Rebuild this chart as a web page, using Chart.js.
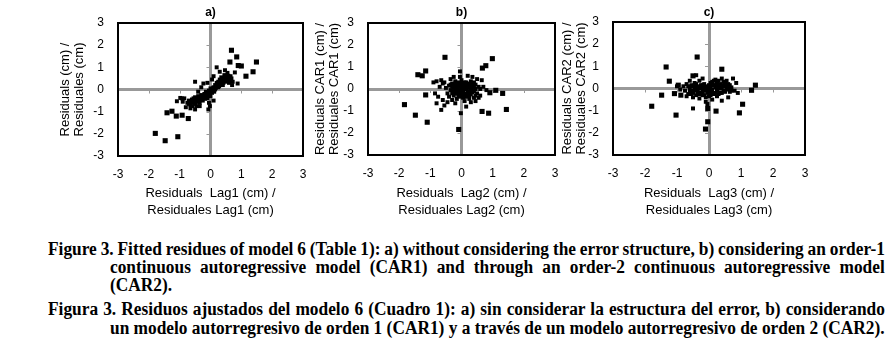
<!DOCTYPE html>
<html>
<head>
<meta charset="utf-8">
<script src="https://cdn.jsdelivr.net/npm/chart.js@4/dist/chart.umd.min.js"></script>
<style>
  html, body { margin: 0; padding: 0; background: #fff; }
  body { width: 893px; height: 360px; position: relative; overflow: hidden; }
  .panel { position: absolute; top: 0; }
  .cap {
    position: absolute; white-space: nowrap; transform-origin: 0 0;
    font-family: "Liberation Serif", "DejaVu Serif", serif; font-weight: bold;
    font-size: 18px; line-height: 18px; color: #000;
  }
</style>
</head>
<body>
<div class="panel" id="wrap_a"><canvas id="ch_a"></canvas></div>
<div class="panel" id="wrap_b"><canvas id="ch_b"></canvas></div>
<div class="panel" id="wrap_c"><canvas id="ch_c"></canvas></div>

<div class="cap" style="left:48px;top:240px" data-w="837">Figure 3. Fitted residues of model 6 (Table 1): a) without considering the error structure, b) considering an order-1</div>
<div class="cap" style="left:110px;top:258px" data-w="775">continuous autoregressive model (CAR1) and through an order-2 continuous autoregressive model</div>
<div class="cap" style="left:110px;top:276px">(CAR2).</div>
<div class="cap" style="left:48px;top:300px" data-w="837">Figura 3. Residuos ajustados del modelo 6 (Cuadro 1): a) sin considerar la estructura del error, b) considerando</div>
<div class="cap" style="left:110px;top:319px" data-w="775" id="capLast">un modelo autorregresivo de orden 1 (CAR1) y a través de un modelo autorregresivo de orden 2 (CAR2).</div>

<script>
const FONT = "'Liberation Sans', Arial, sans-serif";

// axis ticks shared by all three panels
const tickValues = [-3, -2, -1, 0, 1, 2, 3];

// a) residuals vs lag1 — isolated (larger) and clustered (smaller) points
const aOutliers = [
  {x: 0.68, y: 1.77}, {x: 0.85, y: 1.47}, {x: 0.63, y: 1.24}, {x: 1.49, y: 1.24},
  {x: 0.90, y: 1.08}, {x: 1.00, y: 1.06}, {x: 1.38, y: 0.80}, {x: 1.15, y: 0.60},
  {x: -1.79, y: -1.98}, {x: -1.47, y: -2.31}, {x: -1.06, y: -2.13},
  {x: -1.41, y: -1.05}, {x: -1.25, y: -0.98}, {x: -1.11, y: -1.20},
  {x: -0.92, y: -1.16}, {x: -0.72, y: -1.31}
];
const aCluster = [
  {x: -0.75, y: -0.60}, {x: -0.70, y: -0.50}, {x: -0.65, y: -0.70}, {x: -0.60, y: -0.45},
  {x: -0.60, y: -0.60}, {x: -0.55, y: -0.50}, {x: -0.50, y: -0.35}, {x: -0.50, y: -0.65},
  {x: -0.45, y: -0.45}, {x: -0.45, y: -0.55}, {x: -0.40, y: -0.30}, {x: -0.40, y: -0.50},
  {x: -0.35, y: -0.40}, {x: -0.35, y: -0.60}, {x: -0.30, y: -0.25}, {x: -0.30, y: -0.45},
  {x: -0.25, y: -0.30}, {x: -0.25, y: -0.50}, {x: -0.20, y: -0.20}, {x: -0.20, y: -0.35},
  {x: -0.15, y: -0.10}, {x: -0.15, y: -0.30}, {x: -0.10, y: -0.20}, {x: -0.10, y: -0.40},
  {x: -0.05, y: -0.05}, {x: -0.05, y: -0.25}, {x: 0.00, y: -0.10}, {x: 0.00, y: 0.05},
  {x: 0.00, y: -0.30}, {x: 0.05, y: 0.00}, {x: 0.05, y: -0.15}, {x: 0.10, y: 0.10},
  {x: 0.10, y: -0.05}, {x: 0.15, y: 0.20}, {x: 0.15, y: 0.00}, {x: 0.20, y: 0.15},
  {x: 0.20, y: 0.30}, {x: 0.25, y: 0.10}, {x: 0.25, y: 0.35}, {x: 0.30, y: 0.25},
  {x: 0.30, y: 0.45}, {x: 0.35, y: 0.30}, {x: 0.35, y: 0.55}, {x: 0.40, y: 0.40},
  {x: 0.40, y: 0.20}, {x: 0.45, y: 0.50}, {x: 0.45, y: 0.65}, {x: 0.50, y: 0.35},
  {x: 0.50, y: 0.60}, {x: 0.55, y: 0.45}, {x: 0.55, y: 0.75}, {x: 0.60, y: 0.50},
  {x: 0.60, y: 0.30}, {x: 0.65, y: 0.60}, {x: 0.70, y: 0.20}, {x: -0.50, y: 0.35},
  {x: -0.23, y: 0.27}, {x: -0.10, y: 0.30}, {x: 0.05, y: 0.45}, {x: -0.30, y: 0.10},
  {x: -0.40, y: -0.10}, {x: -0.85, y: -0.40}, {x: -0.93, y: -0.40}, {x: -0.90, y: -0.55},
  {x: -0.80, y: -0.80}, {x: -0.65, y: -0.85}, {x: -0.50, y: -0.90}, {x: -0.35, y: -0.75},
  {x: 0.10, y: 0.60}, {x: 0.20, y: 1.00}, {x: 0.30, y: 0.80}, {x: 0.47, y: 0.87},
  {x: -0.07, y: -0.90}, {x: -0.02, y: -0.75}, {x: -1.09, y: -0.53}, {x: -0.98, y: -0.38},
  {x: 0.79, y: 0.77}, {x: 0.88, y: 0.27}, {x: -0.05, y: -0.60}, {x: 0.10, y: -0.50},
  {x: -0.70, y: -0.65}, {x: -0.62, y: -0.55}, {x: -0.55, y: -0.40}, {x: -0.48, y: -0.50},
  {x: -0.42, y: -0.38}, {x: -0.38, y: -0.55}, {x: -0.32, y: -0.35}, {x: -0.28, y: -0.40},
  {x: -0.22, y: -0.28}, {x: -0.18, y: -0.42}, {x: -0.12, y: -0.15}, {x: -0.08, y: -0.30},
  {x: -0.02, y: -0.18}, {x: 0.02, y: -0.05}, {x: 0.08, y: 0.05}, {x: 0.12, y: -0.10},
  {x: 0.18, y: 0.08}, {x: 0.22, y: 0.22}, {x: 0.28, y: 0.15}, {x: 0.32, y: 0.35},
  {x: 0.38, y: 0.45}, {x: 0.42, y: 0.30}, {x: 0.48, y: 0.55}, {x: 0.52, y: 0.50},
  {x: 0.58, y: 0.62}, {x: 0.62, y: 0.40}, {x: 0.68, y: 0.50}, {x: 0.72, y: 0.35},
  {x: -0.58, y: -0.75}, {x: -0.45, y: -0.75}
];

// b) residuals CAR1 vs lag2
const bOutliers = [
  {x: -0.53, y: 1.44}, {x: 0.99, y: 1.38}, {x: 0.78, y: 1.06}, {x: 0.67, y: 0.95},
  {x: -1.40, y: 0.65}, {x: -1.26, y: 0.60}, {x: -1.15, y: 0.82}, {x: -1.83, y: -0.71},
  {x: -1.48, y: -1.19}, {x: -1.10, y: -1.51}, {x: -1.15, y: -0.27}, {x: -0.09, y: -1.84},
  {x: 0.66, y: -1.02}, {x: 0.87, y: -1.10}, {x: 1.44, y: -0.93}, {x: 1.32, y: -0.20},
  {x: 1.10, y: -0.06}, {x: 0.91, y: -0.17}
];
const bCluster = [
  {x: -0.30, y: 0.10}, {x: -0.25, y: -0.10}, {x: -0.20, y: 0.20}, {x: -0.20, y: -0.20},
  {x: -0.15, y: 0.00}, {x: -0.10, y: 0.30}, {x: -0.10, y: -0.30}, {x: -0.05, y: 0.10},
  {x: -0.05, y: -0.15}, {x: 0.00, y: 0.00}, {x: 0.00, y: 0.20}, {x: 0.00, y: -0.25},
  {x: 0.05, y: 0.05}, {x: 0.05, y: -0.10}, {x: 0.10, y: 0.15}, {x: 0.10, y: -0.20},
  {x: 0.15, y: 0.00}, {x: 0.15, y: 0.30}, {x: 0.20, y: -0.10}, {x: 0.20, y: 0.10},
  {x: 0.25, y: -0.30}, {x: 0.25, y: 0.20}, {x: 0.30, y: 0.00}, {x: 0.30, y: 0.35},
  {x: 0.35, y: -0.15}, {x: 0.35, y: 0.10}, {x: 0.40, y: -0.40}, {x: 0.40, y: 0.30},
  {x: 0.45, y: 0.00}, {x: 0.50, y: -0.20}, {x: 0.55, y: 0.10}, {x: -0.35, y: -0.05},
  {x: -0.40, y: 0.15}, {x: -0.45, y: -0.20}, {x: -0.50, y: 0.05}, {x: -0.55, y: 0.30},
  {x: -0.60, y: 0.25}, {x: -0.65, y: 0.40}, {x: -0.70, y: 0.10}, {x: -0.80, y: 0.35},
  {x: -0.90, y: 0.30}, {x: -0.85, y: -0.20}, {x: -0.75, y: -0.35}, {x: -0.60, y: -0.50},
  {x: -0.55, y: -0.75}, {x: -0.45, y: -0.60}, {x: -0.30, y: -0.50}, {x: -0.20, y: -0.65},
  {x: 0.10, y: -0.55}, {x: 0.30, y: -0.60}, {x: 0.45, y: -0.55}, {x: 0.60, y: -0.30},
  {x: 0.70, y: 0.10}, {x: 0.80, y: -0.05}, {x: 0.65, y: 0.40}, {x: 0.50, y: 0.45},
  {x: 0.35, y: 0.55}, {x: -0.05, y: 0.55}, {x: -0.05, y: 0.80}, {x: 0.20, y: 0.60},
  {x: -0.35, y: 0.45}, {x: -0.25, y: 0.55}, {x: 0.15, y: -0.80}, {x: -0.65, y: -0.95},
  {x: -0.80, y: -0.65}, {x: 0.05, y: -0.40}, {x: -0.15, y: -0.45}, {x: 0.25, y: -0.45},
  {x: -0.02, y: -1.10}, {x: -0.15, y: 0.10}, {x: -0.10, y: -0.05}, {x: 0.05, y: 0.25},
  {x: 0.10, y: 0.00}, {x: 0.20, y: -0.20}, {x: 0.25, y: 0.05}, {x: -0.25, y: 0.05},
  {x: -0.30, y: -0.20}, {x: 0.35, y: -0.05}, {x: 0.40, y: 0.15}, {x: 0.15, y: -0.35},
  {x: -0.05, y: -0.35}, {x: 0.00, y: 0.40}, {x: -0.20, y: 0.35}, {x: 0.30, y: 0.20},
  {x: 0.45, y: -0.30}, {x: -0.40, y: -0.35}, {x: 0.60, y: 0.00}, {x: 0.55, y: -0.40},
  {x: -0.10, y: 0.15}, {x: -0.30, y: 0.25}, {x: -0.35, y: 0.20}, {x: -0.25, y: -0.30},
  {x: -0.15, y: 0.25}, {x: -0.15, y: -0.20}, {x: 0.00, y: 0.10}, {x: 0.05, y: -0.20},
  {x: 0.10, y: 0.30}, {x: 0.15, y: 0.15}, {x: 0.20, y: 0.25}, {x: 0.25, y: -0.15},
  {x: 0.30, y: -0.25}, {x: 0.35, y: 0.25}, {x: 0.40, y: -0.10}, {x: 0.45, y: 0.20},
  {x: -0.05, y: 0.25}, {x: 0.10, y: -0.35}, {x: -0.20, y: -0.05}
];

// c) residuals CAR2 vs lag3
const cOutliers = [
  {x: -0.37, y: 1.42}, {x: -1.34, y: 0.97}, {x: -1.24, y: 0.33}, {x: 0.40, y: 0.87},
  {x: 1.45, y: 0.15}, {x: 1.33, y: -0.08}, {x: -1.48, y: -0.30}, {x: -1.79, y: -0.80},
  {x: -1.03, y: -1.20}, {x: 1.05, y: -0.71}, {x: 0.95, y: -1.10}, {x: 0.22, y: -1.02},
  {x: -0.04, y: -1.50}, {x: -0.11, y: -1.83}, {x: -0.04, y: -0.90}, {x: -1.08, y: -0.23},
  {x: -0.96, y: 0.15}, {x: -0.88, y: -0.30}, {x: -0.50, y: 0.57}
];
const cCluster = [
  {x: -0.80, y: 0.10}, {x: -0.75, y: -0.10}, {x: -0.70, y: 0.20}, {x: -0.65, y: -0.25},
  {x: -0.60, y: 0.00}, {x: -0.55, y: 0.15}, {x: -0.50, y: -0.20}, {x: -0.45, y: 0.05},
  {x: -0.40, y: -0.30}, {x: -0.40, y: 0.20}, {x: -0.35, y: -0.10}, {x: -0.30, y: 0.10},
  {x: -0.30, y: -0.25}, {x: -0.25, y: 0.00}, {x: -0.20, y: -0.15}, {x: -0.20, y: 0.15},
  {x: -0.15, y: -0.30}, {x: -0.10, y: 0.05}, {x: -0.10, y: -0.10}, {x: -0.05, y: -0.20},
  {x: 0.00, y: 0.00}, {x: 0.00, y: -0.35}, {x: 0.05, y: 0.10}, {x: 0.05, y: -0.15},
  {x: 0.10, y: -0.05}, {x: 0.15, y: 0.15}, {x: 0.15, y: -0.25}, {x: 0.20, y: 0.05},
  {x: 0.25, y: -0.10}, {x: 0.25, y: 0.25}, {x: 0.30, y: 0.00}, {x: 0.35, y: 0.20},
  {x: 0.35, y: -0.20}, {x: 0.40, y: 0.05}, {x: 0.45, y: 0.30}, {x: 0.45, y: -0.10},
  {x: 0.50, y: 0.10}, {x: 0.55, y: -0.05}, {x: 0.60, y: 0.20}, {x: 0.65, y: -0.15},
  {x: 0.70, y: 0.05}, {x: 0.75, y: 0.45}, {x: 0.80, y: -0.10}, {x: 0.90, y: -0.20},
  {x: 0.85, y: 0.25}, {x: 0.40, y: 0.45}, {x: 0.20, y: 0.40}, {x: -0.20, y: 0.45},
  {x: -0.40, y: 0.60}, {x: -0.60, y: 0.35}, {x: -0.90, y: -0.05}, {x: -1.00, y: 0.10},
  {x: -0.50, y: -0.40}, {x: -0.30, y: -0.45}, {x: 0.10, y: -0.50}, {x: 0.40, y: -0.55},
  {x: 0.60, y: -0.40}, {x: -0.05, y: -0.70}, {x: -0.10, y: -0.60}, {x: 0.10, y: 0.30},
  {x: -0.30, y: 0.35}, {x: 0.55, y: 0.35}, {x: -0.70, y: -0.35}, {x: 0.30, y: 0.35},
  {x: -0.50, y: -0.90}, {x: -0.35, y: 0.05}, {x: -0.25, y: -0.20}, {x: -0.15, y: 0.00},
  {x: -0.05, y: 0.10}, {x: 0.05, y: -0.30}, {x: 0.10, y: 0.20}, {x: 0.20, y: -0.20},
  {x: 0.30, y: 0.15}, {x: 0.35, y: 0.00}, {x: 0.45, y: 0.15}, {x: 0.50, y: -0.15},
  {x: 0.60, y: 0.00}, {x: -0.55, y: -0.10}, {x: -0.45, y: 0.25}, {x: 0.25, y: -0.35},
  {x: -0.10, y: -0.40}, {x: 0.65, y: 0.15}, {x: 0.15, y: 0.35}, {x: -0.65, y: 0.10},
  {x: 0.00, y: 0.15}, {x: -0.55, y: -0.25}, {x: -0.50, y: 0.10}, {x: -0.45, y: -0.10},
  {x: -0.35, y: -0.20}, {x: -0.25, y: 0.15}, {x: -0.20, y: -0.30}, {x: -0.15, y: 0.20},
  {x: -0.05, y: -0.05}, {x: 0.05, y: 0.25}, {x: 0.10, y: -0.20}, {x: 0.20, y: 0.15},
  {x: 0.25, y: 0.05}, {x: 0.30, y: -0.25}, {x: 0.40, y: -0.20}, {x: 0.50, y: 0.25},
  {x: 0.55, y: 0.10}, {x: 0.70, y: -0.10}, {x: -0.60, y: -0.15}
];

const panels = [
  { id: 'a', title: 'a)', box: {l: 118, r: 303, t: 23, b: 156}, yTitleX: 65,
    xTitle: ['Residuals  Lag1 (cm) /', 'Residuales Lag1 (cm)'],
    yTitle: ['Residuals (cm) /', 'Residuales (cm)'],
    big: aOutliers, small: aCluster },
  { id: 'b', title: 'b)', box: {l: 368, r: 555, t: 23, b: 155}, yTitleX: 320,
    xTitle: ['Residuals  Lag2 (cm) /', 'Residuales Lag2 (cm)'],
    yTitle: ['Residuals CAR1 (cm) /', 'Residuales CAR1 (cm)'],
    big: bOutliers, small: bCluster },
  { id: 'c', title: 'c)', box: {l: 613, r: 805, t: 22, b: 155}, yTitleX: 567,
    xTitle: ['Residuals  Lag3 (cm) /', 'Residuales Lag3 (cm)'],
    yTitle: ['Residuals CAR2 (cm) /', 'Residuales CAR2 (cm)'],
    big: cOutliers, small: cCluster }
];

// black plot frame + short gray tick marks on the zero axes
const framePlugin = {
  id: 'frame',
  beforeDatasetsDraw(chart) {
    const { ctx, chartArea: a, scales: { x, y } } = chart;
    const x0 = x.getPixelForValue(0), y0 = y.getPixelForValue(0);
    ctx.save();
    ctx.strokeStyle = '#999'; ctx.lineWidth = 1;
    tickValues.filter(v => v !== 0 && Math.abs(v) < 3).forEach(v => {
      const px = Math.round(x.getPixelForValue(v)) + 0.5;
      ctx.beginPath(); ctx.moveTo(px, y0 + 1); ctx.lineTo(px, y0 + 4); ctx.stroke();
      const py = Math.round(y.getPixelForValue(v)) + 0.5;
      ctx.beginPath(); ctx.moveTo(x0 - 4, py); ctx.lineTo(x0 - 1, py); ctx.stroke();
    });
    ctx.strokeStyle = '#000'; ctx.lineWidth = 2;
    ctx.strokeRect(a.left, a.top, a.right - a.left, a.bottom - a.top);
    ctx.restore();
  }
};

const H = 225, LEFT_SPACE = 70, RIGHT_SPACE = 12;

function axisBase(titleText, titleFont, titlePad) {
  return {
    type: 'linear', min: -3, max: 3,
    afterBuildTicks: s => { s.ticks = tickValues.map(v => ({ value: v })); },
    ticks: { color: '#000', font: { family: FONT, size: 12 } },
    grid: {
      drawTicks: false,
      color: c => (c.tick && c.tick.value === 0) ? '#999' : 'rgba(0,0,0,0)',
      lineWidth: 3
    },
    border: { display: false },
    title: { display: true, text: titleText, color: '#000', font: titleFont, padding: titlePad }
  };
}

panels.forEach(p => {
  const left = p.box.l - LEFT_SPACE;
  const w = p.box.r - p.box.l + LEFT_SPACE + RIGHT_SPACE;
  const wrap = document.getElementById('wrap_' + p.id);
  wrap.style.left = left + 'px';
  const canvas = document.getElementById('ch_' + p.id);
  canvas.width = w; canvas.height = H;
  canvas.style.width = w + 'px'; canvas.style.height = H + 'px';

  const xScale = axisBase(p.xTitle, { family: FONT, size: 13, lineHeight: 1.3 }, { top: 0, bottom: 6 });
  xScale.ticks.padding = 11;
  xScale.afterFit = s => { s.height = H - p.box.b; s.paddingLeft = 0; s.paddingRight = 0; };

  const yScale = axisBase(p.yTitle, { family: FONT, size: 13, lineHeight: 1.1 }, { top: p.yTitleX - left - 7, bottom: 0 });
  yScale.ticks.padding = 14;
  yScale.afterFit = s => { s.width = LEFT_SPACE; s.paddingTop = 0; s.paddingBottom = 0; };

  new Chart(canvas.getContext('2d'), {
    type: 'scatter',
    data: {
      datasets: [
        { label: 'cluster', data: p.small, pointStyle: 'rect', pointRadius: 2.8,
          backgroundColor: '#000', borderWidth: 0 },
        { label: 'isolated', data: p.big, pointStyle: 'rect', pointRadius: 3.6,
          backgroundColor: '#000', borderWidth: 0 }
      ]
    },
    options: {
      responsive: false,
      animation: false,
      devicePixelRatio: 1,
      layout: { padding: { left: 0, right: RIGHT_SPACE, top: 0, bottom: 0 } },
      plugins: {
        legend: { display: false },
        tooltip: { enabled: false },
        title: {
          display: true, text: p.title, fullSize: false, color: '#000',
          font: { family: FONT, size: 12, weight: 'bold', lineHeight: 1.2 },
          padding: { top: 5.8, bottom: p.box.t - 14.4 - 5.8 }
        }
      },
      scales: { x: xScale, y: yScale }
    },
    plugins: [framePlugin]
  });
});

// caption: common horizontal squeeze taken from the last (unjustified) line,
// the other full lines are justified with word spacing
(function fitCaptions() {
  const last = document.getElementById('capLast');
  const K = 775 / last.offsetWidth;
  document.querySelectorAll('.cap').forEach(d => {
    d.style.transform = `scaleX(${K})`;
    const target = +d.dataset.w;
    if (target && d !== last) {
      const n = (d.textContent.match(/ /g) || []).length;
      d.style.wordSpacing = ((target / K - d.offsetWidth) / n) + 'px';
    }
  });
})();
</script>
</body>
</html>
